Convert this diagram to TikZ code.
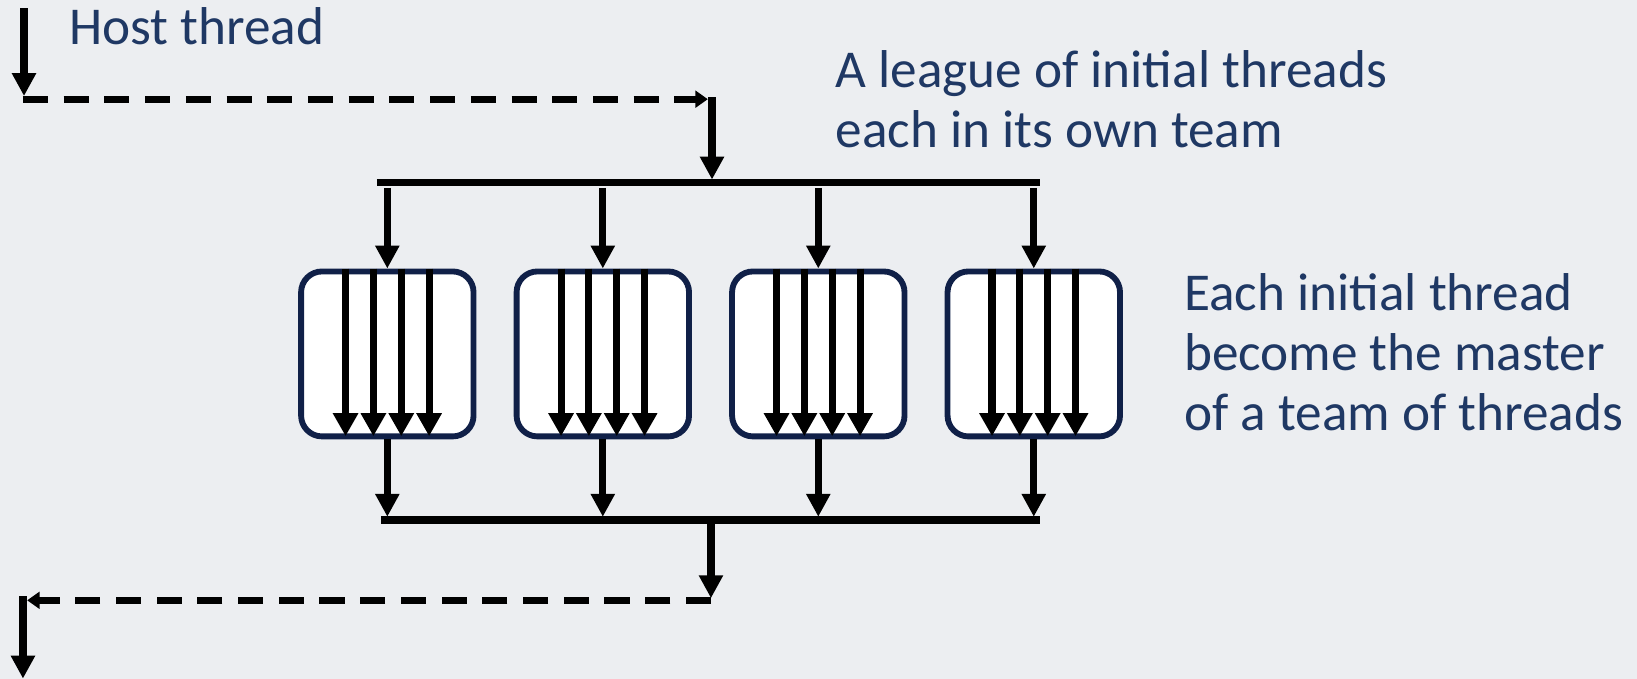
\documentclass[tikz,border=0pt]{standalone}
\usepackage{fontspec}
\setmainfont{Carlito}
\usetikzlibrary{arrows.meta}
\definecolor{txtblue}{RGB}{31,56,100}
\definecolor{navy}{RGB}{16,32,72}
\definecolor{bgcol}{RGB}{236,238,241}
\begin{document}
\begin{tikzpicture}[x=0.5pt,y=-0.5pt,
  bar/.style={line width=3.6pt},
  arr/.style={line width=3.4pt,-{Triangle[width=11pt,length=11pt]}},
  innerarr/.style={line width=3.4pt,-{Triangle[width=11.5pt,length=11pt]},shorten >=1.5pt},
  dashline/.style={line width=3.4pt,dash pattern=on 12pt off 7.5pt,-{Triangle[width=8pt,length=6pt]}},
  teambox/.style={draw=navy,line width=2.8pt,fill=white,rounded corners=10pt,minimum width=82.6pt,minimum height=79pt,inner sep=0pt},
  lbl/.style={text=txtblue,font=\fontsize{25.5}{28.7}\selectfont,align=left,inner sep=0pt}]
\fill[bgcol] (0,0) rectangle (1568,650);
\useasboundingbox (0,0) rectangle (1568,650);

% labels
\node[lbl,anchor=base west] (host) at (66,43) {Host thread};
\node[lbl,anchor=north west] (league) at (800,48) {A league of initial threads\\each in its own team};
\node[lbl,anchor=north west] (each) at (1134,262) {Each initial thread\\become the master\\of a team of threads};

% team boxes
\node[teambox] (b1) at (371,339) {};
\node[teambox] (b2) at (577.4,339) {};
\node[teambox] (b3) at (783.8,339) {};
\node[teambox] (b4) at (990.2,339) {};

% coordinates
\coordinate (h0) at (23,8);
\coordinate (h1) at (23,92);
\coordinate (d0) at (22,95);
\coordinate (d1) at (678,95);
\coordinate (c0) at (682,93);
\coordinate (c1) at (682,172);
\coordinate (tbL) at (361,175);
\coordinate (tbR) at (996,175);
\coordinate (bbL) at (365,498);
\coordinate (bbR) at (996,498);
\coordinate (e0) at (681,498);
\coordinate (e1) at (681,573);
\coordinate (f0) at (681,575);
\coordinate (f1) at (26,575);
\coordinate (g0) at (22,571);
\coordinate (g1) at (22,650);

% host thread fork
\draw[arr] (h0) -- (h1);
\draw[dashline] (d0) -- (d1);
\draw[arr] (c0) -- (c1);
\draw[bar] (tbL) -- (tbR);

\foreach \b in {b1,b2,b3,b4}{
  \draw[arr] (\b.north |- 0,180) -- (\b.north);
  \foreach \o in {-20,-6.67,6.67,20}{
    \draw[innerarr] ([xshift=\o pt]\b.north) -- ([xshift=\o pt]\b.south);
  }
  \draw[arr] (\b.south) -- (\b.south |- 0,495);
}

% join
\draw[bar] (bbL) -- (bbR);
\draw[arr] (e0) -- (e1);
\draw[dashline] (f0) -- (f1);
\draw[arr] (g0) -- (g1);
\end{tikzpicture}
\end{document}
